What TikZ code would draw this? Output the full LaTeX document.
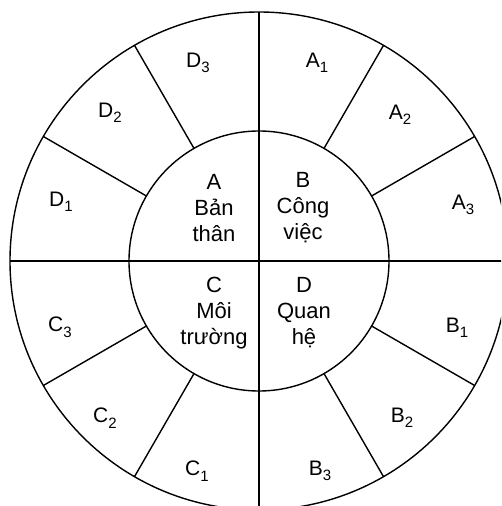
\documentclass[tikz,border=0pt]{standalone}
\usepackage{fontspec}
\setmainfont{Liberation Sans}
\newcommand{\lsub}[1]{\raisebox{-0.5ex}{\fontsize{15}{15}\selectfont #1}}
\begin{document}
\begin{tikzpicture}[x=1pt,y=1pt, line width=1.4pt,
  lab/.style={font=\fontsize{21}{23}\selectfont, inner sep=0pt},
  mid/.style={font=\fontsize{22}{26}\selectfont, align=center, inner sep=0pt}]
\useasboundingbox (-259,-245) rectangle (242,261);
\clip (-259,-245) rectangle (242,261);
\coordinate (O) at (0,0);
\draw (O) circle (249);
\draw (O) circle (130);
\draw (-249,0) -- (249,0);
\draw (0,-249) -- (0,249);
\foreach \a in {30,60,120,150,210,240,300,330} \draw (\a:130) -- (\a:249);
% outer labels
\node[lab] (a1) at (58,198) {A\lsub{1}};
\node[lab] (d3) at (-61,198) {D\lsub{3}};
\node[lab] (a2) at (141,146) {A\lsub{2}};
\node[lab] (d2) at (-149,148) {D\lsub{2}};
\node[lab] (a3) at (204,56) {A\lsub{3}};
\node[lab] (d1) at (-198,59) {D\lsub{1}};
\node[lab] (b1) at (198,-67) {B\lsub{1}};
\node[lab] (c3) at (-199,-66) {C\lsub{3}};
\node[lab] (b2) at (143,-157) {B\lsub{2}};
\node[lab] (c2) at (-154,-157) {C\lsub{2}};
\node[lab] (b3) at (61,-210) {B\lsub{3}};
\node[lab] (c1) at (-62,-210) {C\lsub{1}};
% inner labels
\node[mid] (A) at (-45,53) {A\\Bản\\thân};
\node[mid] (B) at (44,53) {B\\Công\\việc};
\node[mid] (C) at (-45,-52) {C\\Môi\\trường};
\node[mid] (D) at (45,-52) {D\\Quan\\hệ};
\end{tikzpicture}
\end{document}
